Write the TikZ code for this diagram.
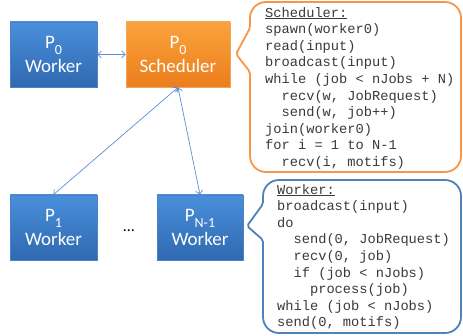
\documentclass[tikz,border=0pt]{standalone}
\usepackage{fontspec}
\setmainfont{Carlito}
\setmonofont{Liberation Mono}
\usetikzlibrary{arrows.meta}
\definecolor{bluetop}{HTML}{4A8FDB}
\definecolor{bluebot}{HTML}{2F69B0}
\definecolor{bluebord}{HTML}{4A82C6}
\definecolor{orgtop}{HTML}{FBA23C}
\definecolor{orgbot}{HTML}{EB7E1C}
\definecolor{orgbord}{HTML}{F2A45A}
\definecolor{arrowblue}{HTML}{5B8FD0}
\definecolor{callorange}{HTML}{F79646}
\definecolor{callblue}{HTML}{4F81BD}
\definecolor{codegray}{HTML}{3A3A3A}
\newcommand{\psub}[1]{\raisebox{-0.3em}{\fontsize{14}{14}\selectfont #1}}
\newcommand{\ind}{\phantom{xx}}
\tikzset{
  proc/.style={rectangle, minimum height=65pt, inner sep=0pt,
    top color=bluetop, bottom color=bluebot, draw=bluebord, line width=0.8pt,
    text=white, font=\fontsize{19}{24}\selectfont, align=center},
  sched/.style={proc, top color=orgtop, bottom color=orgbot, draw=orgbord},
  conn/.style={{Straight Barb[length=3.5pt,width=7pt]}-{Straight Barb[length=3.5pt,width=7pt]},
    draw=arrowblue, line width=0.7pt},
  code/.style={font=\fontsize{13.7}{16.6}\selectfont\ttfamily, text=codegray,
    align=left, inner sep=0pt, anchor=north west},
  callout/.style={line width=1.8pt, fill=white}
}
\begin{document}
\begin{tikzpicture}[x=1pt,y=-1pt]
\useasboundingbox (0,0) rectangle (463,336);
% callouts
\draw[callout, draw=callorange, rounded corners=2pt] (236,54) -- (250,72)
  {[rounded corners=16pt] -- (250,172) -- (461,172) -- (461,2) -- (250,2)} -- (250,28) -- cycle;
\draw[callout, draw=callblue, rounded corners=2pt] (247,226) -- (263,240)
  {[rounded corners=16pt] -- (263,333) -- (461,333) -- (461,180) -- (263,180)} -- (263,204) -- cycle;
\node[code] (schedcode) at (265,7) {\underline{Scheduler:}\\
spawn(worker0)\\
read(input)\\
broadcast(input)\\
while (job < nJobs + N)\\
\ind recv(w, JobRequest)\\
\ind send(w, job++)\\
join(worker0)\\
for i = 1 to N-1\\
\ind recv(i, motifs)};
\node[code] (workcode) at (277,184) {\underline{Worker:}\\
broadcast(input)\\
do\\
\ind send(0, JobRequest)\\
\ind recv(0, job)\\
\ind if (job < nJobs)\\
\ind\ind process(job)\\
while (job < nJobs)\\
send(0, motifs)};
% process boxes
\node[proc, minimum width=87pt] (w0) at (53.5,54.5) {P\psub{0}\\Worker};
\node[sched, minimum width=104pt] (s0) at (178,54.5) {P\psub{0}\\Scheduler};
\node[proc, minimum width=87pt] (w1) at (53.5,227.5) {P\psub{1}\\Worker};
\node[proc, minimum width=86pt] (wn) at (200,227.5) {P\psub{N-1}\\Worker};
\node[font=\fontsize{16}{16}\selectfont] (dots) at (129,231) {\ldots};
% connectors
\draw[conn] (w0.east) -- (s0.west);
\draw[conn] (s0.south) -- (w1.north);
\draw[conn] (s0.south) -- (wn.north);
\end{tikzpicture}
\end{document}
